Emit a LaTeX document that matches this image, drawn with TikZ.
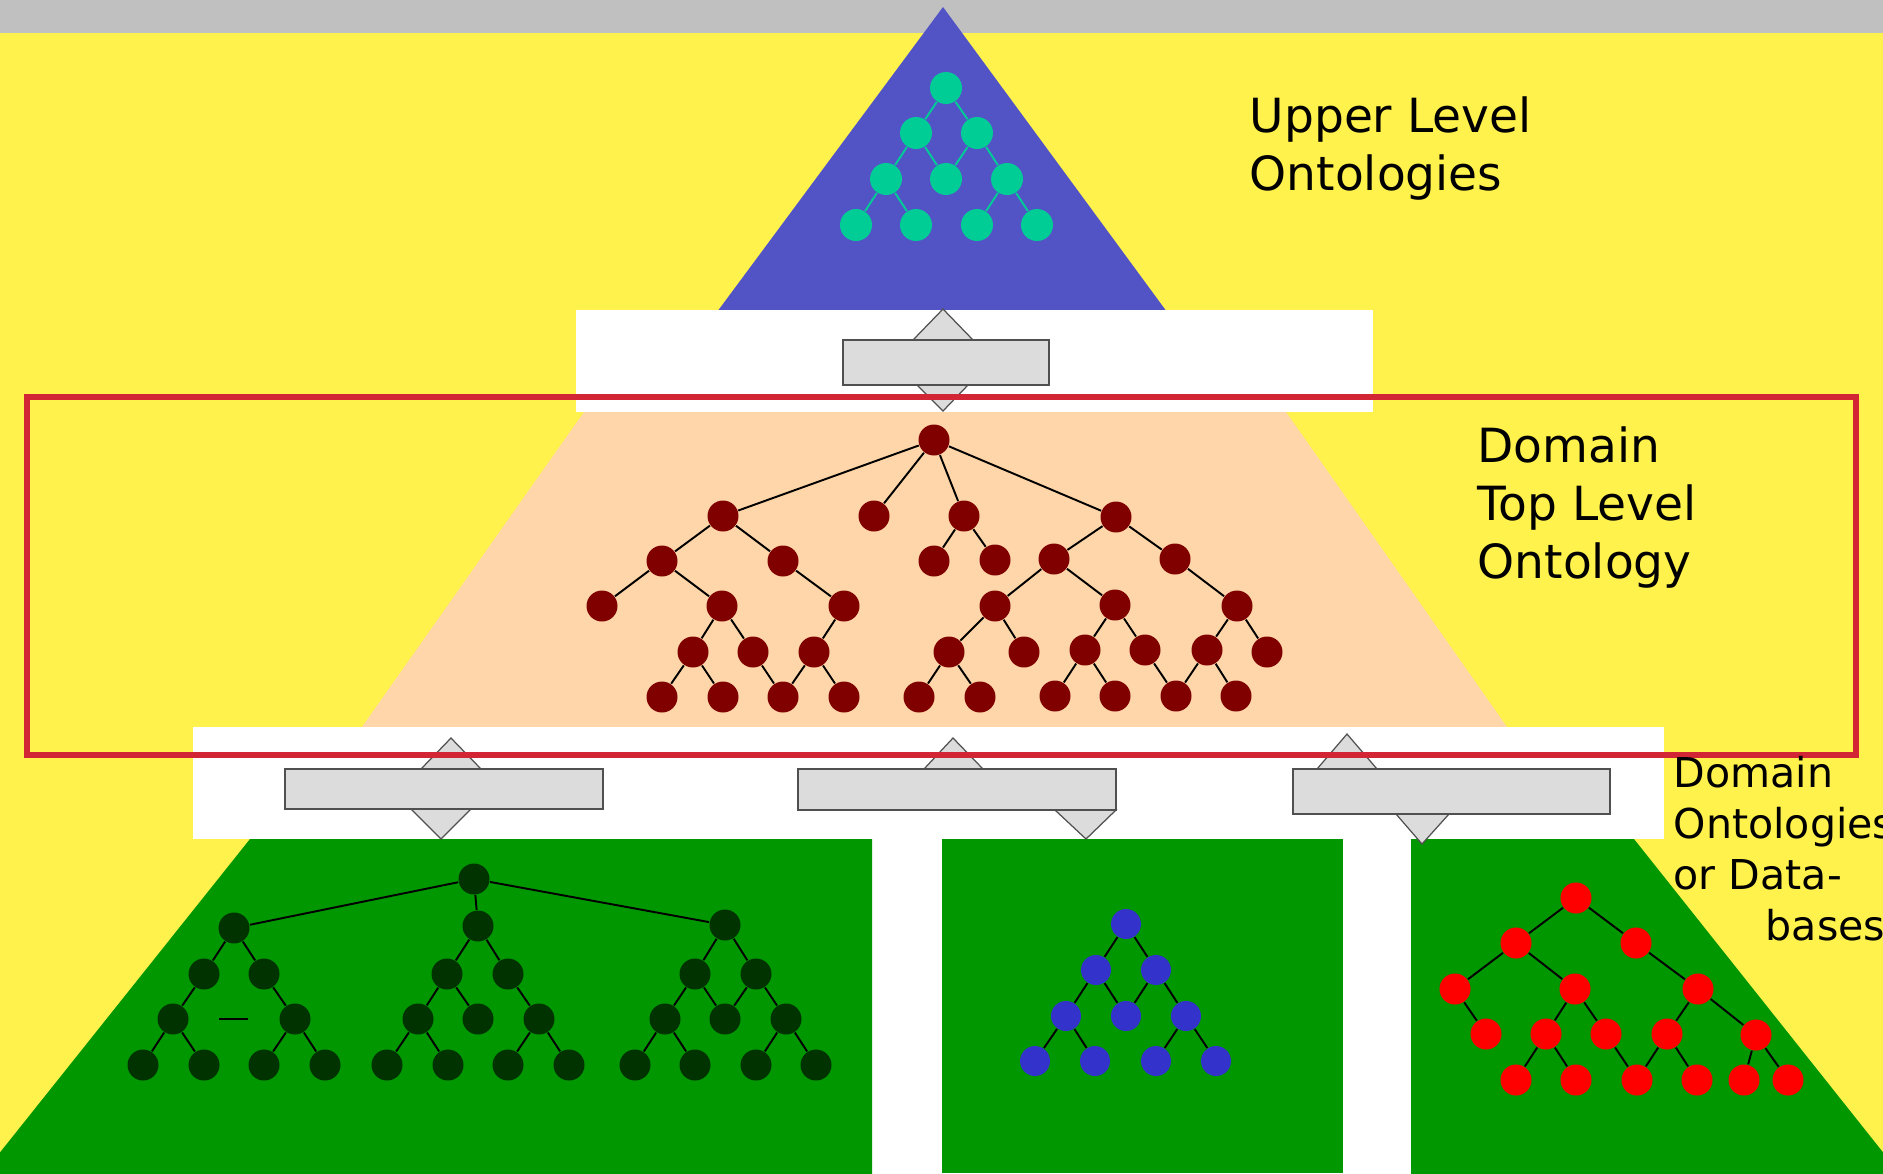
\documentclass[tikz,border=0pt]{standalone}
\usepackage{fontspec}
\setmainfont{DejaVu Sans}

\definecolor{topband}{RGB}{192,192,192}
\definecolor{bgyellow}{RGB}{255,242,77}
\definecolor{upperblue}{RGB}{82,84,198}
\definecolor{upteal}{RGB}{0,204,150}
\definecolor{peach}{RGB}{254,214,169}
\definecolor{topred}{RGB}{128,0,0}
\definecolor{domgreen}{RGB}{0,151,0}
\definecolor{darkleaf}{RGB}{0,51,0}
\definecolor{midblue}{RGB}{51,51,204}
\definecolor{brightred}{RGB}{255,0,0}
\definecolor{frame}{RGB}{210,38,52}
\definecolor{barfill}{RGB}{220,220,220}
\definecolor{barline}{RGB}{80,80,80}

\tikzstyle{upnode} = [circle, fill=upteal, minimum size=3.2mm, inner sep=0pt]
\tikzstyle{topnode} = [circle, fill=topred, minimum size=3.1mm, inner sep=0pt]
\tikzstyle{leftnode} = [circle, fill=darkleaf, minimum size=3.1mm, inner sep=0pt]
\tikzstyle{midnode} = [circle, fill=midblue, minimum size=3.0mm, inner sep=0pt]
\tikzstyle{rightnode} = [circle, fill=brightred, minimum size=3.1mm, inner sep=0pt]
\tikzstyle{link} = [line width=0.55pt, black]
\tikzstyle{uplink} = [line width=0.55pt, upteal]
\tikzstyle{bar} = [rectangle, fill=barfill, draw=barline, line width=0.45pt, inner sep=0pt]
\tikzstyle{tip} = [fill=barfill, draw=barline, line width=0.35pt]
\tikzstyle{levelname} = [anchor=base west, align=left, inner sep=0pt, font=\fontsize{13.4}{16.5}\selectfont]
\tikzstyle{smallname} = [anchor=base west, align=left, inner sep=0pt, font=\fontsize{11.7}{14.5}\selectfont]

\begin{document}
\begin{tikzpicture}[x=0.1mm, y=-0.1mm]

\useasboundingbox (0,0) rectangle (1883,1173);

% background
\fill [bgyellow] (0,0) rectangle (1883,1173);
\fill [topband] (0,0) rectangle (1883,33);

% pyramid layers
\fill [upperblue] (943,7) -- (1167,312) -- (717,312) -- cycle;
\fill [white] (576,310) rectangle (1373,412);
\fill [peach] (584,412) -- (1286,412) -- (1507,727) -- (362,727) -- cycle;
\fill [white] (193,727) rectangle (1664,839);
\fill [white] (872,839) rectangle (1411,1173);
\fill [domgreen] (250,839) -- (872,839) -- (872,1180) -- (-22,1180) -- cycle;
\fill [domgreen] (942,839) rectangle (1343,1173);
\fill [domgreen] (1411,839) -- (1634,839) -- (1905,1180) -- (1411,1180) -- cycle;

% mapping bars
\draw [tip] (913,340) -- (943,309) -- (973,340) -- cycle;
\draw [tip] (917,385) -- (943,411) -- (968,385) -- cycle;
\node (topbar) [bar, minimum width=20.6mm, minimum height=4.5mm] at (946,362.5) {};

\draw [tip] (421,769) -- (451,738) -- (481,769) -- cycle;
\draw [tip] (411,809) -- (441,839) -- (471,809) -- cycle;
\node (bara) [bar, minimum width=31.8mm, minimum height=4.0mm] at (444,789) {};

\draw [tip] (924,769) -- (953,738) -- (983,769) -- cycle;
\draw [tip] (1055,810) -- (1086,839) -- (1116,810) -- cycle;
\node (barb) [bar, minimum width=31.8mm, minimum height=4.1mm] at (957,789.5) {};

\draw [tip] (1317,769) -- (1347,734) -- (1377,769) -- cycle;
\draw [tip] (1396,814) -- (1422,844) -- (1449,814) -- cycle;
\node (barc) [bar, minimum width=31.7mm, minimum height=4.5mm] at (1451.5,791.5) {};

% upper level tree
\node (u1) [upnode] at (946,88) {};
\node (u2) [upnode] at (916,133) {};
\node (u3) [upnode] at (977,133) {};
\node (u4) [upnode] at (886,179) {};
\node (u5) [upnode] at (946,179) {};
\node (u6) [upnode] at (1007,179) {};
\node (u7) [upnode] at (856,225) {};
\node (u8) [upnode] at (916,225) {};
\node (u9) [upnode] at (977,225) {};
\node (u10) [upnode] at (1037,225) {};

\draw [uplink] (u1)--(u2) (u1)--(u3) (u2)--(u4) (u2)--(u5) (u3)--(u5) (u3)--(u6)
  (u4)--(u7) (u4)--(u8) (u6)--(u9) (u6)--(u10);

% domain top level tree
\node (t1) [topnode] at (934,440) {};
\node (t2) [topnode] at (723,516) {};
\node (t3) [topnode] at (874,516) {};
\node (t4) [topnode] at (964,516) {};
\node (t5) [topnode] at (1116,517) {};
\node (t6) [topnode] at (662,561) {};
\node (t7) [topnode] at (783,561) {};
\node (t8) [topnode] at (934,561) {};
\node (t9) [topnode] at (995,560) {};
\node (t10) [topnode] at (1054,559) {};
\node (t11) [topnode] at (1175,559) {};
\node (t12) [topnode] at (602,606) {};
\node (t13) [topnode] at (722,606) {};
\node (t14) [topnode] at (844,606) {};
\node (t15) [topnode] at (995,606) {};
\node (t16) [topnode] at (1115,605) {};
\node (t17) [topnode] at (1237,606) {};
\node (t18) [topnode] at (693,652) {};
\node (t19) [topnode] at (753,652) {};
\node (t20) [topnode] at (814,652) {};
\node (t21) [topnode] at (949,652) {};
\node (t22) [topnode] at (1024,652) {};
\node (t23) [topnode] at (1085,650) {};
\node (t24) [topnode] at (1145,650) {};
\node (t25) [topnode] at (1207,650) {};
\node (t26) [topnode] at (1267,652) {};
\node (t27) [topnode] at (662,697) {};
\node (t28) [topnode] at (723,697) {};
\node (t29) [topnode] at (783,697) {};
\node (t30) [topnode] at (844,697) {};
\node (t31) [topnode] at (919,697) {};
\node (t32) [topnode] at (980,697) {};
\node (t33) [topnode] at (1055,696) {};
\node (t34) [topnode] at (1115,696) {};
\node (t35) [topnode] at (1176,696) {};
\node (t36) [topnode] at (1236,696) {};

\draw [link] (t1)--(t2) (t1)--(t3) (t1)--(t4) (t1)--(t5)
  (t2)--(t6) (t2)--(t7) (t4)--(t8) (t4)--(t9) (t5)--(t10) (t5)--(t11)
  (t6)--(t12) (t6)--(t13) (t7)--(t14) (t10)--(t15) (t10)--(t16) (t11)--(t17)
  (t13)--(t18) (t13)--(t19) (t14)--(t20) (t15)--(t21) (t15)--(t22)
  (t16)--(t23) (t16)--(t24) (t17)--(t25) (t17)--(t26)
  (t18)--(t27) (t18)--(t28) (t19)--(t29) (t20)--(t29) (t20)--(t30)
  (t21)--(t31) (t21)--(t32) (t23)--(t33) (t23)--(t34) (t24)--(t35)
  (t25)--(t35) (t25)--(t36);

% domain ontologies: left
\node (g1) [leftnode] at (474,879) {};
\node (g2) [leftnode] at (234,928) {};
\node (g3) [leftnode] at (478,926) {};
\node (g4) [leftnode] at (725,925) {};
\node (g5) [leftnode] at (204,974) {};
\node (g6) [leftnode] at (264,974) {};
\node (g7) [leftnode] at (447,974) {};
\node (g8) [leftnode] at (508,974) {};
\node (g9) [leftnode] at (695,974) {};
\node (g10) [leftnode] at (756,974) {};
\node (g11) [leftnode] at (173,1019) {};
\node (g12) [leftnode] at (295,1019) {};
\node (g13) [leftnode] at (418,1019) {};
\node (g14) [leftnode] at (478,1019) {};
\node (g15) [leftnode] at (539,1019) {};
\node (g16) [leftnode] at (665,1019) {};
\node (g17) [leftnode] at (725,1019) {};
\node (g18) [leftnode] at (786,1019) {};
\node (g19) [leftnode] at (143,1065) {};
\node (g20) [leftnode] at (204,1065) {};
\node (g21) [leftnode] at (264,1065) {};
\node (g22) [leftnode] at (325,1065) {};
\node (g23) [leftnode] at (387,1065) {};
\node (g24) [leftnode] at (448,1065) {};
\node (g25) [leftnode] at (508,1065) {};
\node (g26) [leftnode] at (569,1065) {};
\node (g27) [leftnode] at (635,1065) {};
\node (g28) [leftnode] at (695,1065) {};
\node (g29) [leftnode] at (756,1065) {};
\node (g30) [leftnode] at (816,1065) {};

\draw [link] (g1)--(g2) (g1)--(g3) (g1)--(g4)
  (g2)--(g5) (g2)--(g6) (g3)--(g7) (g3)--(g8) (g4)--(g9) (g4)--(g10)
  (g5)--(g11) (g6)--(g12) (g7)--(g13) (g7)--(g14) (g8)--(g15)
  (g9)--(g16) (g9)--(g17) (g10)--(g17) (g10)--(g18)
  (g11)--(g19) (g11)--(g20) (g12)--(g21) (g12)--(g22)
  (g13)--(g23) (g13)--(g24) (g15)--(g25) (g15)--(g26)
  (g16)--(g27) (g16)--(g28) (g18)--(g29) (g18)--(g30);
\draw [line width=0.3pt] (219,1019) -- (248,1019);

% domain ontologies: middle
\node (b1) [midnode] at (1126,924) {};
\node (b2) [midnode] at (1096,970) {};
\node (b3) [midnode] at (1156,970) {};
\node (b4) [midnode] at (1066,1016) {};
\node (b5) [midnode] at (1126,1016) {};
\node (b6) [midnode] at (1186,1016) {};
\node (b7) [midnode] at (1035,1061) {};
\node (b8) [midnode] at (1095,1061) {};
\node (b9) [midnode] at (1156,1061) {};
\node (b10) [midnode] at (1216,1061) {};

\draw [link] (b1)--(b2) (b1)--(b3) (b2)--(b4) (b2)--(b5) (b3)--(b5) (b3)--(b6)
  (b4)--(b7) (b4)--(b8) (b6)--(b9) (b6)--(b10);

% domain ontologies: right
\node (r1) [rightnode] at (1576,898) {};
\node (r2) [rightnode] at (1516,943) {};
\node (r3) [rightnode] at (1636,943) {};
\node (r4) [rightnode] at (1455,989) {};
\node (r5) [rightnode] at (1575,989) {};
\node (r6) [rightnode] at (1698,989) {};
\node (r7) [rightnode] at (1486,1034) {};
\node (r8) [rightnode] at (1546,1034) {};
\node (r9) [rightnode] at (1606,1034) {};
\node (r10) [rightnode] at (1667,1034) {};
\node (r11) [rightnode] at (1756,1035) {};
\node (r12) [rightnode] at (1516,1080) {};
\node (r13) [rightnode] at (1576,1080) {};
\node (r14) [rightnode] at (1637,1080) {};
\node (r15) [rightnode] at (1697,1080) {};
\node (r16) [rightnode] at (1744,1080) {};
\node (r17) [rightnode] at (1788,1080) {};

\draw [link] (r1)--(r2) (r1)--(r3) (r2)--(r4) (r2)--(r5) (r3)--(r6)
  (r4)--(r7) (r5)--(r8) (r5)--(r9) (r6)--(r10) (r6)--(r11)
  (r8)--(r12) (r8)--(r13) (r9)--(r14) (r10)--(r14) (r10)--(r15)
  (r11)--(r16) (r11)--(r17);

% frame round the domain top level
\draw [frame, line width=1.6pt] (27,397) rectangle (1856,755);

% level names (base anchor sits on the last line)
\node (uppername) [levelname] at (1249,190) {Upper Level\\Ontologies};
\node (topname) [levelname] at (1477,578) {Domain\\Top Level\\Ontology};
\node (domname) [smallname] at (1673,940) {Domain\\Ontologies\\or Data-\\\hspace*{9.2mm}bases};

\end{tikzpicture}
\end{document}
